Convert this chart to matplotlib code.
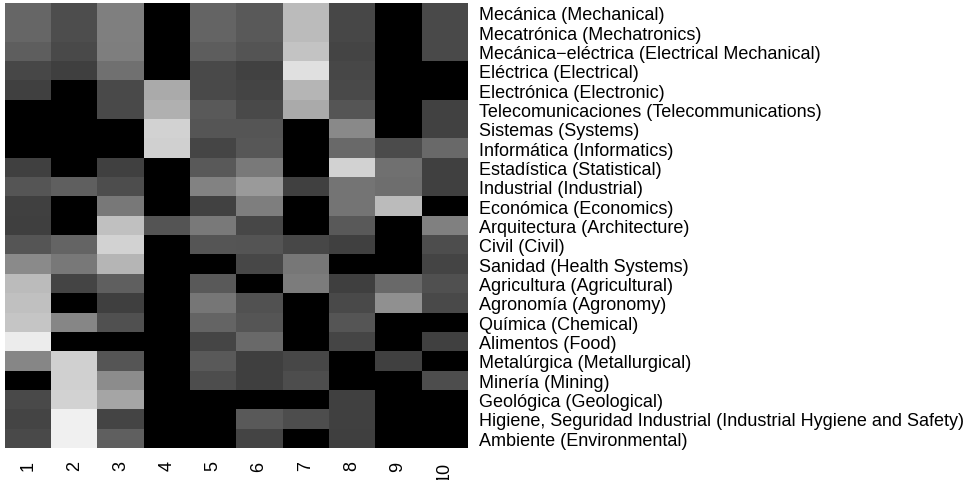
import numpy as np
import matplotlib
matplotlib.use('Agg')
import matplotlib.pyplot as plt

plt.rcParams['font.family'] = ['Liberation Sans', 'DejaVu Sans']

# row labels, top to bottom
fields = [
    'Mecánica (Mechanical)',
    'Mecatrónica (Mechatronics)',
    'Mecánica\u2212eléctrica (Electrical Mechanical)',
    'Eléctrica (Electrical)',
    'Electrónica (Electronic)',
    'Telecomunicaciones (Telecommunications)',
    'Sistemas (Systems)',
    'Informática (Informatics)',
    'Estadística (Statistical)',
    'Industrial (Industrial)',
    'Económica (Economics)',
    'Arquitectura (Architecture)',
    'Civil (Civil)',
    'Sanidad (Health Systems)',
    'Agricultura (Agricultural)',
    'Agronomía (Agronomy)',
    'Química (Chemical)',
    'Alimentos (Food)',
    'Metalúrgica (Metallurgical)',
    'Minería (Mining)',
    'Geológica (Geological)',
    'Higiene, Seguridad Industrial (Industrial Hygiene and Safety)',
    'Ambiente (Environmental)',
]
clusters = [str(i) for i in range(1, 11)]

# cell intensity (0 = black, 255 = white)
vals = np.array([
    [0x66, 0x4d, 0x7f, 0, 0x64, 0x59, 0xbb, 0x47, 0, 0x4a],
    [0x66, 0x4d, 0x7f, 0, 0x64, 0x59, 0xbb, 0x47, 0, 0x4a],
    [0x5e, 0x4a, 0x7e, 0, 0x5d, 0x54, 0xc3, 0x44, 0, 0x4a],
    [0x47, 0x3f, 0x70, 0, 0x4a, 0x42, 0xe0, 0x47, 0, 0],
    [0x40, 0, 0x4a, 0xaa, 0x4a, 0x44, 0xb5, 0x4a, 0, 0],
    [0, 0, 0x4a, 0xb0, 0x5a, 0x4a, 0xaa, 0x55, 0, 0x42],
    [0, 0, 0, 0xd2, 0x55, 0x55, 0, 0x89, 0, 0x42],
    [0, 0, 0, 0xd0, 0x45, 0x57, 0, 0x6a, 0x4b, 0x6a],
    [0x40, 0, 0x40, 0, 0x5a, 0x7a, 0, 0xd2, 0x70, 0x40],
    [0x55, 0x5f, 0x4d, 0, 0x82, 0x9a, 0x40, 0x74, 0x6e, 0x40],
    [0x40, 0, 0x78, 0, 0x42, 0x7e, 0, 0x74, 0xbb, 0],
    [0x3f, 0, 0xc0, 0x54, 0x7a, 0x47, 0, 0x5a, 0, 0x80],
    [0x55, 0x64, 0xd2, 0, 0x55, 0x54, 0x47, 0x40, 0, 0x4d],
    [0x8a, 0x78, 0xb5, 0, 0, 0x47, 0x77, 0, 0, 0x44],
    [0xbb, 0x44, 0x5f, 0, 0x5a, 0, 0x7c, 0x3f, 0x6a, 0x50],
    [0xc0, 0, 0x3f, 0, 0x76, 0x52, 0, 0x4a, 0x90, 0x4a],
    [0xc5, 0x86, 0x50, 0, 0x64, 0x55, 0, 0x55, 0, 0],
    [0xec, 0, 0, 0, 0x45, 0x6a, 0, 0x45, 0, 0x40],
    [0x86, 0xd0, 0x55, 0, 0x5a, 0x3f, 0x47, 0, 0x40, 0],
    [0, 0xd0, 0x8c, 0, 0x4d, 0x3f, 0x4d, 0, 0, 0x4d],
    [0x4a, 0xd2, 0xa5, 0, 0, 0, 0, 0x40, 0, 0],
    [0x44, 0xf0, 0x44, 0, 0, 0x5a, 0x4d, 0x40, 0, 0],
    [0x4a, 0xf0, 0x5f, 0, 0, 0x44, 0, 0x3f, 0, 0],
])

fig = plt.figure(figsize=(9.65, 4.81), dpi=100)
ax = fig.add_axes([5/965, 1 - 449/481, 462/965, 445/481])
ax.imshow(vals, cmap='gray', vmin=0, vmax=255, aspect='auto', interpolation='nearest')

ax.set_xticks(range(len(clusters)))
ax.set_xticklabels(clusters, rotation=90, fontsize=13)
ax.set_yticks(range(len(fields)))
ax.set_yticklabels(fields, fontsize=13)
ax.yaxis.tick_right()
ax.tick_params(length=0)
ax.tick_params(axis='y', pad=8.5)
ax.tick_params(axis='x', pad=9)
for s in ax.spines.values():
    s.set_visible(False)

fig.savefig('out.png', dpi=100)
